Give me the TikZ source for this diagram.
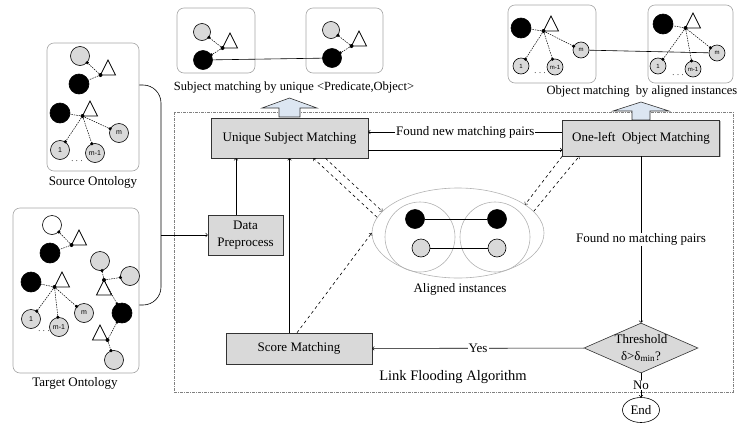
\documentclass[tikz,border=0pt]{standalone}
\usepackage{fontspec}
\setmainfont{Liberation Serif}
\setsansfont{Liberation Sans}
\usetikzlibrary{shapes.geometric,shadows}
\definecolor{boxgray}{HTML}{D9D9D9}
\definecolor{arrowblue}{HTML}{DCE6F2}

\begin{document}
\begin{tikzpicture}[x=1pt,y=-1pt,line width=0.6pt,font=\fontsize{13}{16}\selectfont]
    \tikzstyle{procbox}=[rectangle,draw=black!80,fill=boxgray,inner sep=2pt,drop shadow={shadow xshift=1.2pt,shadow yshift=-1.2pt,opacity=0.5}]
    \tikzstyle{decision}=[diamond,draw=black!80,fill=boxgray,inner sep=0pt,minimum width=114pt,minimum height=50pt]
    \tikzstyle{ontbox}=[rectangle,rounded corners=7pt,draw=gray!70,fill=white]
    \tikzstyle{algbox}=[rectangle,draw=gray,line width=0.5pt,dash pattern=on 3pt off 1pt on 1pt off 1pt]
    \tikzstyle{gnode}=[circle,draw=black,fill=boxgray,inner sep=0pt,minimum size=19pt,font=\sffamily\fontsize{7}{7}\selectfont]
    \tikzstyle{sgnode}=[gnode,minimum size=16pt,font=\sffamily\fontsize{6}{6}\selectfont]
    \tikzstyle{bnode}=[circle,draw=black,fill=black,inner sep=0pt,minimum size=20pt]
    \tikzstyle{wnode}=[circle,draw=black,fill=white,inner sep=0pt,minimum size=19pt]
    \tikzstyle{hub}=[circle,fill=black,inner sep=0pt,minimum size=4pt]
    \tikzstyle{edgedot}=[circle,fill=black,inner sep=0pt,minimum size=3.5pt]
    \tikzstyle{link}=[line width=0.5pt,dash pattern=on 1.5pt off 1pt]
    \tikzstyle{tri}=[draw=black,fill=white,line width=0.7pt]
    \tikzstyle{bigarrow}=[draw=black!80,fill=arrowblue]
    \tikzstyle{flow}=[->]
    \tikzstyle{dashlink}=[->,dashed]
    \tikzstyle{onpath}=[midway,fill=white,inner sep=1pt]
    \tikzstyle{toplabel}=[font=\fontsize{12.5}{15}\selectfont]

    \useasboundingbox (0,0) rectangle (745,426);

    \node[algbox,minimum width=559pt,minimum height=280pt] (lfa) at (453.5,252) {};
    \node[font=\fontsize{14.5}{16}\selectfont] (lfalabel) at (453,377) {Link Flooding Algorithm};

    \node[ontbox,minimum width=92pt,minimum height=128pt] (src) at (93,107) {};
    \node (srclabel) at (93,182) {Source Ontology};
    \node[gnode] (s1) at (80,56) {};
    \node[bnode] (s2) at (79,84) {};
    \draw[tri] (108,60) -- (100.5,75) -- (115.5,75) -- cycle;
    \node[hub] (sh1) at (100.5,75) {};
    \node[bnode] (s3) at (60,113) {};
    \draw[tri] (90,101) -- (82.5,116) -- (97.5,116) -- cycle;
    \node[hub] (sh2) at (82.5,116) {};
    \node[gnode] (s4) at (60,150) {1};
    \node[gnode] (s5) at (95,153) {m-1};
    \node[gnode] (s6) at (119,133) {m};
    \node[font=\fontsize{8}{8}\selectfont] (sdots) at (77,161) {. . .};
    \draw[link] (sh1) -- (s1) node[edgedot,at end] {};
    \draw[link] (sh1) -- (s2);
    \draw[link] (sh2) -- (s3);
    \draw[link] (sh2) -- (s4) node[edgedot,at end] {};
    \draw[link] (sh2) -- (s5) node[edgedot,at end] {};
    \draw[link] (sh2) -- (s6) node[edgedot,at end] {};

    \node[ontbox,minimum width=126pt,minimum height=165pt] (tgt) at (76,290.5) {};
    \node (tgtlabel) at (75,383) {Target Ontology};
    \node[wnode] (t1) at (52,225) {};
    \node[bnode] (t2) at (50,253) {};
    \draw[tri] (79,230) -- (71.5,245) -- (86.5,245) -- cycle;
    \node[hub] (th1) at (71.5,245) {};
    \node[bnode] (t3) at (31,282) {};
    \draw[tri] (62,272) -- (54.5,287) -- (69.5,287) -- cycle;
    \node[hub] (th2) at (54.5,287) {};
    \node[gnode] (t4) at (31,319) {1};
    \node[gnode] (t5) at (59,327) {m-1};
    \node[gnode] (t6) at (84,313) {m};
    \node[font=\fontsize{8}{8}\selectfont] (tdots) at (44,331) {. . .};
    \node[gnode] (t7) at (100,261) {};
    \node[gnode] (t8) at (130,276) {};
    \draw[tri] (104,280) -- (96.5,295) -- (111.5,295) -- cycle;
    \node[hub] (th3) at (104,280) {};
    \node[bnode] (t9) at (122,313) {};
    \draw[tri] (100,325) -- (92.5,340) -- (107.5,340) -- cycle;
    \node[hub] (th4) at (107.5,340) {};
    \node[gnode] (t10) at (114,360) {};
    \draw[link] (th1) -- (t1) node[edgedot,at end] {};
    \draw[link] (th1) -- (t2);
    \draw[link] (th2) -- (t3);
    \draw[link] (th2) -- (t4) node[edgedot,at end] {};
    \draw[link] (th2) -- (t5) node[edgedot,at end] {};
    \draw[link] (th2) -- (t6) node[edgedot,at end] {};
    \draw[link] (th3) -- (t7) node[edgedot,at end] {};
    \draw[link] (th3) -- (t8) node[edgedot,at end] {};
    \draw[link] (th3) -- (t9) node[edgedot,at end] {};
    \draw[link] (th4) -- (t9) node[edgedot,at end] {};
    \draw[link] (th4) -- (t10) node[edgedot,at end] {};

    \node[ontbox,minimum width=78pt,minimum height=65pt] (sbl) at (216,40.5) {};
    \node[ontbox,minimum width=77pt,minimum height=65pt] (sbr) at (344.5,40.5) {};
    \node[gnode,minimum size=17pt] (sa1) at (202,32) {};
    \node[bnode,minimum size=19pt] (sa2) at (203,60) {};
    \draw[tri] (230,33) -- (222.5,48) -- (237.5,48) -- cycle;
    \node[hub] (sah) at (222.5,48) {};
    \node[gnode,minimum size=17pt] (sb1) at (331,30) {};
    \node[bnode,minimum size=19pt] (sb2) at (332,58) {};
    \draw[tri] (359,31) -- (351.5,46) -- (366.5,46) -- cycle;
    \node[hub] (sbh) at (351.5,46) {};
    \draw[link] (sah) -- (sa1) node[edgedot,at end] {};
    \draw[link] (sah) -- (sa2) node[edgedot,at end] {};
    \draw[link] (sbh) -- (sb1) node[edgedot,at end] {};
    \draw[link] (sbh) -- (sb2) node[edgedot,at end] {};
    \draw (sa2) -- (sb2);
    \node[toplabel] (sublabel) at (294,88) {Subject matching by unique <Predicate,Object>};

    \node[ontbox,minimum width=88pt,minimum height=78pt] (obl) at (552,44) {};
    \node[ontbox,minimum width=85pt,minimum height=78pt] (obr) at (690.5,44) {};
    \node[bnode] (oa1) at (521,28) {};
    \draw[tri] (551,16) -- (543.5,31) -- (558.5,31) -- cycle;
    \node[hub] (oah) at (543.5,31) {};
    \node[sgnode] (oam) at (581,50) {m};
    \node[sgnode] (oa2) at (521,66) {1};
    \node[sgnode] (oa3) at (555,67) {m-1};
    \node[font=\fontsize{8}{8}\selectfont] (oadots) at (540,73) {. . .};
    \node[bnode] (ob1) at (663,24) {};
    \draw[tri] (693,13) -- (685.5,28) -- (700.5,28) -- cycle;
    \node[hub] (obh) at (685.5,28) {};
    \node[sgnode] (obm) at (717,53) {m};
    \node[sgnode] (ob2) at (658,66) {1};
    \node[sgnode] (ob3) at (693,69) {m-1};
    \node[font=\fontsize{8}{8}\selectfont] (obdots) at (678,75) {. . .};
    \draw[link] (oah) -- (oa1);
    \draw[link] (oah) -- (oam) node[edgedot,at end] {};
    \draw[link] (oah) -- (oa2) node[edgedot,at end] {};
    \draw[link] (oah) -- (oa3) node[edgedot,at end] {};
    \draw[link] (obh) -- (ob1);
    \draw[link] (obh) -- (obm) node[edgedot,at end] {};
    \draw[link] (obh) -- (ob2) node[edgedot,at end] {};
    \draw[link] (obh) -- (ob3) node[edgedot,at end] {};
    \draw (oam) -- (obm);
    \node[toplabel] (objlabel) at (642,92) {Object matching\ \ by aligned instances};

    \draw[bigarrow] (279,117) -- (279,108) -- (262,108) -- (289.5,98) -- (317,108) -- (300,108) -- (300,117) -- cycle;
    \draw[bigarrow] (632,120) -- (632,111) -- (613,111) -- (641,102) -- (669,111) -- (650,111) -- (650,120) -- cycle;

    \node[procbox,minimum width=157pt,minimum height=40pt] (usm) at (289.5,138) {Unique Subject Matching};
    \node[procbox,minimum width=157pt,minimum height=36pt] (olm) at (641,138) {One-left\ \ Object Matching};
    \node[procbox,minimum width=75pt,minimum height=40pt,align=center,font=\fontsize{13}{17}\selectfont] (dp) at (245.5,235) {Data\\Preprocess};
    \node[procbox,minimum width=146pt,minimum height=31pt] (sm) at (299,348.5) {Score Matching};
    \node[decision,label={[align=center,font=\fontsize{13}{17}\selectfont]center:{Threshold\\δ>δ\textsubscript{min}?}}] (thr) at (641,348) {};
    \node[ellipse,draw=black,minimum width=37pt,minimum height=25pt,inner sep=0pt] (endn) at (641,410) {End};

    \node[ellipse,draw=gray!60,minimum width=172pt,minimum height=90pt] (ai) at (458,233) {};
    \node[circle,draw=gray!60,minimum size=70pt] (ail) at (420,237) {};
    \node[circle,draw=gray!60,minimum size=70pt] (air) at (495,237) {};
    \node[bnode,minimum size=19pt] (ib1) at (415,219) {};
    \node[bnode,minimum size=19pt] (ib2) at (497,219) {};
    \node[gnode,minimum size=18pt] (ig1) at (421,248) {};
    \node[gnode,minimum size=18pt] (ig2) at (497,248) {};
    \draw (ib1) -- (ib2);
    \draw (ig1) -- (ig2);
    \node (ailabel) at (460,289) {Aligned instances};

    \coordinate (brk) at (161,235);
    \draw[rounded corners=18pt] ([yshift=22pt]src.east) -| (brk) |- ([yshift=-14.5pt]tgt.east);
    \draw[flow] (brk) -- (dp);
    \draw[flow] ([xshift=-9.5pt]dp.north) -- ([xshift=-9.5pt]dp.north |- usm.south);
    \draw[flow] (sm.north -| usm.south) -- (usm.south);
    \draw[dashlink] ([xshift=-2pt]sm.north) -- (ai.west);
    \draw[dashlink] ([xshift=36pt]usm.south) -- (ai.164);
    \draw[dashlink] (ai.169) -- ([xshift=24pt]usm.south);
    \draw[dashlink] (olm.south west) -- (ai.23);
    \draw[dashlink] (ai.16) -- ([xshift=17pt]olm.south west);
    \draw[flow] ([yshift=6pt]olm.west) -- ([yshift=6pt]usm.east) node[onpath] {Found new matching pairs};
    \draw[flow] ([yshift=-12pt]usm.east) -- ([yshift=-12pt]olm.west);
    \draw[flow] (olm) -- (thr) node[onpath] {Found no matching pairs};
    \draw[flow] (thr) -- (sm) node[onpath] {Yes};
    \draw[flow] (thr) -- (endn) node[onpath,inner sep=0.5pt] {No};
\end{tikzpicture}
\end{document}
